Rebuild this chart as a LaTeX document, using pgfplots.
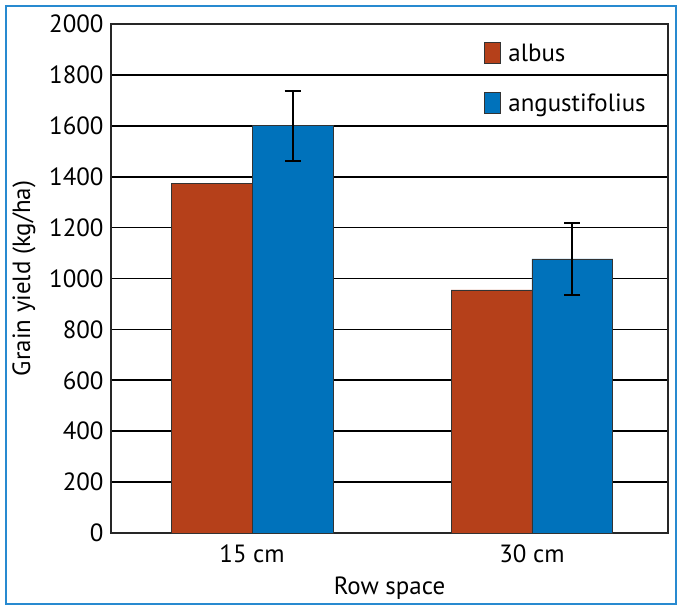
\documentclass[border=0pt]{standalone}
\usepackage{pgfplots}
\pgfplotsset{compat=1.18}
\usepackage{fontspec}
\setmainfont{PT Sans}
\definecolor{albus}{RGB}{181,64,26}
\definecolor{angus}{RGB}{0,114,187}
\definecolor{frame}{RGB}{40,138,208}
\begin{document}
\begin{tikzpicture}
\useasboundingbox (-111bp,-73bp) rectangle (569bp,533bp);
\draw[frame, line width=1.3bp] (-105bp,-71bp) rectangle (565bp,527bp);
\begin{axis}[
  at={(0,0)}, anchor=south west,
  scale only axis, width=557bp, height=509bp,
  ybar=0pt, bar width=0.289,
  xmin=-0.504, xmax=1.486,
  ymin=0, ymax=2000,
  ytick={0,200,...,2000},
  xtick={0,1}, xticklabels={15 cm, 30 cm},
  major tick length=0pt,
  ymajorgrids, grid style={black, line width=1.7bp},
  axis line style={black!85, line width=1.5bp},
  tick label style={font=\fontsize{25}{29}\selectfont},
  label style={font=\fontsize{25}{29}\selectfont},
  /pgf/number format/assume math mode=true,
  /pgf/number format/1000 sep={},
  xlabel={Row space}, ylabel={Grain yield (kg/ha)},
  xlabel style={at={(axis description cs:0.5,0)}, anchor=center, yshift=-55bp},
  ylabel style={at={(axis description cs:0,0.5)}, anchor=center, yshift=87bp},
  yticklabel style={xshift=-4bp},
  xticklabel style={yshift=-8bp},
  legend cell align=left,
  legend style={at={(rel axis cs:0.669,0.969)}, anchor=north west, draw=none, fill=none,
    font=\fontsize{25}{29}\selectfont, row sep=27bp, inner xsep=0pt,
    /tikz/every odd column/.append style={column sep=6bp}},
  legend image code/.code={\draw[#1, draw=black!80, line width=0.6bp] (0bp,-10bp) rectangle (16bp,11bp);},
  error bars/error bar style={black, line width=2bp},
  error bars/error mark options={black, line width=2bp, mark size=8bp, rotate=90},
]
\addplot[fill=albus, draw=black!80, line width=0.8bp] coordinates {(0,1375) (1,955)};
\addplot[fill=angus, draw=black!80, line width=0.8bp,
  error bars/.cd, y dir=both, y explicit]
  coordinates {(0,1600) +- (0,137) (1,1077) +- (0,140)};
\legend{albus, angustifolius}
\end{axis}
\end{tikzpicture}
\end{document}
